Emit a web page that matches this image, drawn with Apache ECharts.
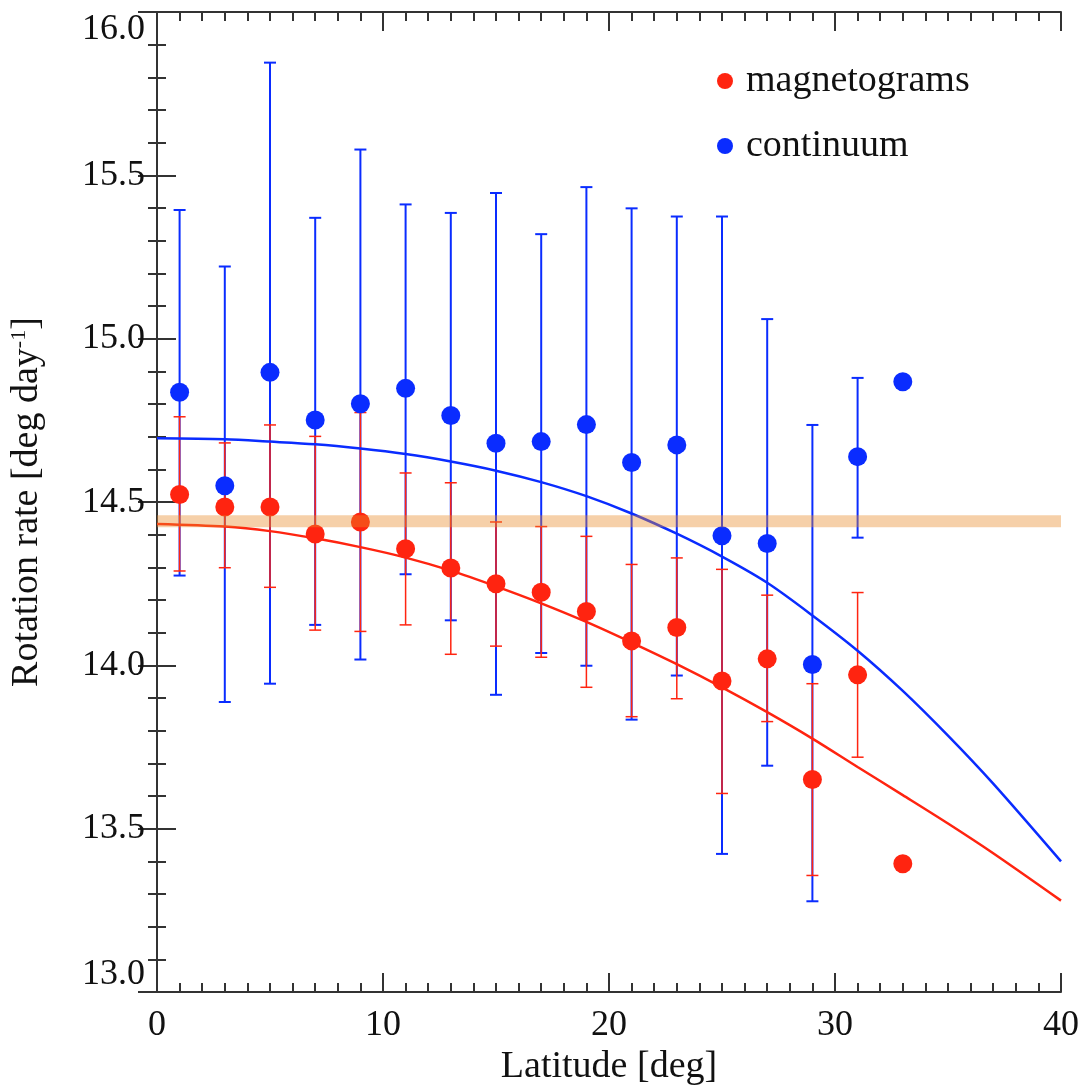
<!DOCTYPE html>
<html>
<head>
<meta charset="utf-8">
<script src="https://cdn.jsdelivr.net/npm/echarts@6/dist/echarts.min.js"></script>
<style>
  html, body { margin: 0; padding: 0; background: #fff; }
  #chart { width: 1087px; height: 1091px; }
</style>
</head>
<body>
<div id="chart"></div>
<script>
// latitude bins [deg]
const latitudes = [1, 3, 5, 7, 9, 11, 13, 15, 17, 19, 21, 23, 25, 27, 29, 31, 33]

// magnetograms (red)
const magRate = [14.523, 14.485, 14.485, 14.402, 14.439, 14.357, 14.298, 14.250, 14.224, 14.165, 14.075, 14.116, 13.952, 14.020, 13.651, 13.971, 13.393]
const magHigh = [14.761, 14.681, 14.736, 14.701, 14.774, 14.589, 14.559, 14.439, 14.425, 14.395, 14.309, 14.329, 14.294, 14.215, 13.944, 14.223, null]
const magLow  = [14.289, 14.299, 14.239, 14.108, 14.104, 14.124, 14.034, 14.059, 14.025, 13.933, 13.843, 13.898, 13.608, 13.828, 13.357, 13.719, null]

// continuum (blue)
const contRate = [14.836, 14.550, 14.897, 14.751, 14.801, 14.848, 14.765, 14.680, 14.685, 14.737, 14.621, 14.675, 14.397, 14.373, 14.003, 14.639, 14.868]
const contHigh = [15.394, 15.221, 15.845, 15.370, 15.579, 15.411, 15.385, 15.446, 15.320, 15.464, 15.399, 15.374, 15.374, 15.060, 14.736, 14.880, null]
const contLow  = [14.275, 13.888, 13.944, 14.124, 14.018, 14.279, 14.138, 13.910, 14.038, 13.999, 13.834, 13.969, 13.423, 13.693, 13.278, 14.391, null]

// fitted profiles
const fitLat      = [0, 3, 5, 7, 9, 11, 13, 15, 17, 19, 21, 23, 25, 27, 29, 31, 33, 35, 37, 40]
const fitContRate = [14.695, 14.692, 14.685, 14.677, 14.664, 14.647, 14.624, 14.596, 14.561, 14.518, 14.465, 14.403, 14.333, 14.253, 14.153, 14.045, 13.922, 13.785, 13.638, 13.400]
const fitMagRate  = [14.433, 14.425, 14.411, 14.389, 14.362, 14.330, 14.290, 14.242, 14.190, 14.133, 14.070, 14.004, 13.933, 13.857, 13.776, 13.689, 13.603, 13.516, 13.425, 13.280]

// reference rate band
const bandLat = [0, 40]
const bandRate = [14.441, 14.441]

const RED = "#ff2410"
const BLUE = "#0a2cff"
const FONT = "'Liberation Serif', 'Times New Roman', serif"

const zip = (xs, ys) => xs.map((x, i) => [x, ys[i]])
const errData = (lo, hi) => latitudes.map((x, i) => [x, lo[i], hi[i]]).filter(d => d[1] != null)

const errorBars = (name, color, lo, hi, width, z) => ({
  type: "custom",
  name: name + "-err",
  z: z,
  data: errData(lo, hi),
  encode: { x: 0, y: [1, 2] },
  renderItem: (params, api) => {
    const x = api.value(0)
    const pLo = api.coord([x, api.value(1)])
    const pHi = api.coord([x, api.value(2)])
    const half = 6
    const style = { stroke: color, lineWidth: width }
    return {
      type: "group",
      children: [
        { type: "line", shape: { x1: pLo[0], y1: pLo[1], x2: pHi[0], y2: pHi[1] }, style },
        { type: "line", shape: { x1: pLo[0] - half, y1: pLo[1], x2: pLo[0] + half, y2: pLo[1] }, style },
        { type: "line", shape: { x1: pHi[0] - half, y1: pHi[1], x2: pHi[0] + half, y2: pHi[1] }, style },
      ],
    }
  },
})

const axisCommon = {
  axisLine: { lineStyle: { color: "#333", width: 2 } },
  axisTick: { inside: true, length: 19, lineStyle: { color: "#333", width: 2 } },
  minorTick: { show: true, length: 9, lineStyle: { color: "#333", width: 2 } },
  splitLine: { show: false },
}

const chart = echarts.init(document.getElementById("chart"))
chart.setOption({
  animation: false,
  backgroundColor: "#fff",
  grid: { left: 153, right: 26, top: 12, bottom: 97 },
  legend: {
    orient: "vertical",
    left: 712,
    top: 56,
    itemWidth: 16,
    itemHeight: 16,
    itemGap: 25,
    icon: "circle",
    data: ["magnetograms", "continuum"],
    textStyle: { fontFamily: FONT, fontSize: 38, color: "#111", lineHeight: 40, padding: [0, 0, 0, 8] },
  },
  xAxis: [
    {
      type: "value", min: 0, max: 40, interval: 10,
      ...axisCommon,
      minorTick: { ...axisCommon.minorTick, splitNumber: 10 },
      axisLabel: { fontFamily: FONT, fontSize: 36, color: "#111", margin: 15 },
      name: "Latitude [deg]",
      nameLocation: "middle",
      nameGap: 55,
      nameTextStyle: { fontFamily: FONT, fontSize: 38, color: "#111" },
    },
    {
      type: "value", position: "top", min: 0, max: 40, interval: 10,
      ...axisCommon,
      minorTick: { ...axisCommon.minorTick, splitNumber: 10 },
      axisLabel: { show: false },
    },
  ],
  yAxis: [
    {
      type: "value", min: 13, max: 16, interval: 0.5,
      ...axisCommon,
      minorTick: { ...axisCommon.minorTick, splitNumber: 5 },
      axisLabel: {
        fontFamily: FONT, fontSize: 36, color: "#111", margin: 12,
        formatter: v => v.toFixed(1),
        verticalAlignMinLabel: "bottom",
        verticalAlignMaxLabel: "top",
      },
      name: "Rotation rate [deg day{sup|-1}]",
      nameLocation: "middle",
      nameGap: 111,
      nameTextStyle: {
        fontFamily: FONT, fontSize: 38, color: "#111",
        rich: { sup: { fontFamily: FONT, fontSize: 22, color: "#111", verticalAlign: "top", padding: [0, 0, 16, 0] } },
      },
    },
    {
      type: "value", position: "right", min: 13, max: 16, interval: 0.5,
      ...axisCommon,
      minorTick: { ...axisCommon.minorTick, splitNumber: 5 },
      axisLabel: { show: false },
    },
  ],
  series: [
    errorBars("continuum", BLUE, contLow, contHigh, 2, 1),
    errorBars("magnetograms", RED, magLow, magHigh, 1.5, 2),
    {
      type: "line", name: "fit-cont", z: 3, smooth: 0.3, showSymbol: false,
      data: zip(fitLat, fitContRate),
      lineStyle: { color: BLUE, width: 2.5 },
    },
    {
      type: "line", name: "fit-mag", z: 3, smooth: 0.3, showSymbol: false,
      data: zip(fitLat, fitMagRate),
      lineStyle: { color: RED, width: 2.5 },
    },
    {
      type: "scatter", name: "continuum", z: 4, symbolSize: 19,
      data: zip(latitudes, contRate),
      itemStyle: { color: BLUE, opacity: 1 },
    },
    {
      type: "scatter", name: "magnetograms", z: 5, symbolSize: 19,
      data: zip(latitudes, magRate),
      itemStyle: { color: RED, opacity: 1 },
    },
    {
      type: "line", name: "band", z: 6, showSymbol: false,
      data: zip(bandLat, bandRate),
      lineStyle: { color: "rgba(232,138,40,0.4)", width: 12 },
    },
  ],
})
</script>
</body>
</html>
